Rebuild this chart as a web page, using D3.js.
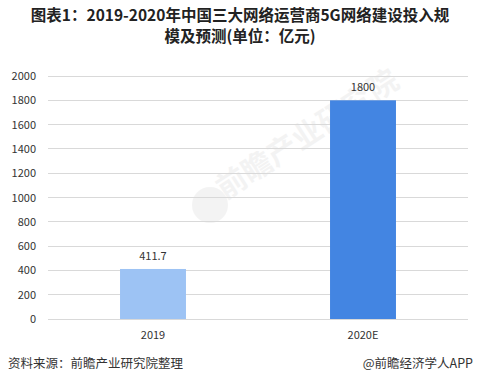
<!DOCTYPE html>
<html><head><meta charset="utf-8">
<script src="https://cdn.jsdelivr.net/npm/d3@7"></script>
<style>body{margin:0;background:#fff;}svg{display:block;}</style>
</head><body>
<script>
const categories = ["2019", "2020E"];
const values = [411.7, 1800];
const valueLabels = ["411.7", "1800"];
const barColors = ["#9dc3f4", "#4385e2"];
const yTicks = [0, 200, 400, 600, 800, 1000, 1200, 1400, 1600, 1800, 2000];
const titleLines = ["图表1：2019-2020年中国三大网络运营商5G网络建设投入规", "模及预测(单位：亿元)"];
const sourceText = "资料来源：前瞻产业研究院整理";
const brandText = "@前瞻经济学人APP";

const W = 478, H = 385;
const m = {left: 48, right: 10, top: 76, bottom: 66};
const svg = d3.select("body").append("svg").attr("width", W).attr("height", H);
const font = "'Microsoft YaHei','Noto Sans CJK SC',sans-serif";

const x = d3.scaleBand().domain(categories).range([m.left, W - m.right]).paddingInner(0.686).paddingOuter(0.343);
const y = d3.scaleLinear().domain([0, 2000]).range([H - m.bottom, m.top]);

// title
svg.append("g").selectAll("text").data(titleLines).join("text")
  .attr("x", 240).attr("y", (d, i) => 21 + i * 21)
  .attr("text-anchor", "middle").attr("font-family", font)
  .attr("font-size", 15.5).attr("font-weight", "bold").attr("fill", "#222")
  .text(d => d);

// watermark
const wm = svg.append("g").attr("opacity", 0.05);
wm.append("circle").attr("cx", 210).attr("cy", 205).attr("r", 18).attr("fill", "#333");
wm.append("text").attr("transform", "translate(225,200) rotate(-33)")
  .attr("font-family", font).attr("font-size", 30).attr("font-weight", "bold").attr("fill", "#333")
  .text("前瞻产业研究院");

// grid
svg.append("g").selectAll("line").data(yTicks).join("line")
  .attr("x1", m.left).attr("x2", W - m.right)
  .attr("y1", d => y(d)).attr("y2", d => y(d))
  .attr("stroke", "#d9d9d9").attr("stroke-width", 1).attr("shape-rendering", "crispEdges");

// y axis labels
const yAxis = d3.axisLeft(y).tickValues(yTicks).tickFormat(d3.format("d")).tickSize(0).tickPadding(0);
const ya = svg.append("g").attr("transform", `translate(${m.left - 12},0)`).call(yAxis);
ya.select(".domain").remove();
ya.selectAll("text").attr("font-family", font).attr("font-size", 11).attr("fill", "#333");

// bars
svg.append("g").selectAll("rect").data(categories).join("rect")
  .attr("x", d => x(d)).attr("width", x.bandwidth())
  .attr("y", (d, i) => y(values[i])).attr("height", (d, i) => y(0) - y(values[i]))
  .attr("fill", (d, i) => barColors[i]);

// value labels
svg.append("g").selectAll("text").data(categories).join("text")
  .attr("x", d => x(d) + x.bandwidth() / 2).attr("y", (d, i) => y(values[i]) - 9)
  .attr("text-anchor", "middle").attr("font-family", font).attr("font-size", 11).attr("fill", "#333")
  .text((d, i) => valueLabels[i]);

// x axis
const xAxis = d3.axisBottom(x).tickSize(0).tickPadding(0);
const xa = svg.append("g").attr("transform", `translate(0,${H - m.bottom + 20})`).call(xAxis);
xa.select(".domain").remove();
xa.selectAll("text").attr("font-family", font).attr("font-size", 11).attr("fill", "#333").attr("dy", 0);

// footer
svg.append("text").attr("x", 8).attr("y", 368).attr("font-family", font).attr("font-size", 12.5).attr("fill", "#333").text(sourceText);
svg.append("text").attr("x", 473).attr("y", 368).attr("text-anchor", "end").attr("font-family", font).attr("font-size", 12.5).attr("fill", "#333").text(brandText);
</script>
</body></html>
